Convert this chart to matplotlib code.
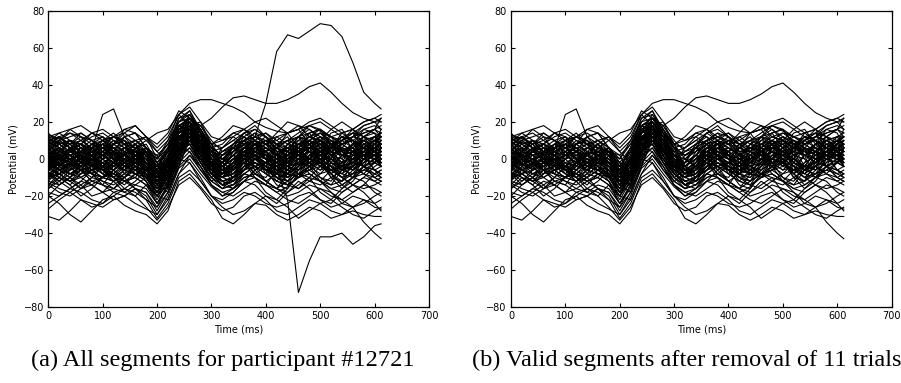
import matplotlib
matplotlib.use("Agg")
import matplotlib.pyplot as plt

# sample times (ms)
time_ms = [0, 20, 40, 60, 80, 100, 120, 140, 160, 180, 200, 220, 240, 260, 280, 300,
           320, 340, 360, 380, 400, 420, 440, 460, 480, 500, 520, 540, 560, 580, 600, 612]

# trials kept after artefact rejection (potential, mV)
valid_trials = [
    [-31,-33,-28,-22,-24,-26,-22,-20,-24,-27,-30,-20,-5,0,-8,-15,-20,-18,-12,-10,-14,-18,-15,-10,-8,-12,-16,-14,-10,-8,-10,-12],
    [-20,-24,-30,-34,-28,-22,-20,-25,-28,-30,-35,-28,-12,-8,-15,-22,-32,-35,-30,-24,-25,-30,-33,-30,-26,-28,-32,-30,-28,-30,-31,-31],
    [-5,-8,-12,-10,-6,-4,-8,-12,-10,-14,-20,-12,4,8,0,-8,-12,-10,-6,-4,-8,-12,-14,-10,-8,-12,-18,-24,-26,-34,-40,-43],
    [5,8,10,6,4,8,12,10,6,4,0,8,18,22,18,22,28,33,34,32,30,30,32,35,39,41,36,30,25,22,20,20],
    [3,6,10,8,5,24,27,12,5,2,-6,0,14,16,6,-2,-4,0,4,6,2,-2,0,4,6,4,0,-4,-2,2,6,8],
    [10,12,8,4,6,10,12,8,6,10,14,16,24,30,32,32,30,28,25,20,17,15,14,16,18,15,12,10,12,14,16,18],
    [0,3,5,2,-2,-4,-1,3,4,0,-10,-4,12,16,6,-3,-8,-5,0,4,6,3,-1,-3,0,4,7,5,2,4,8,10],
    [-8,-5,-2,-4,-8,-10,-6,-2,-4,-9,-16,-8,8,12,4,-6,-10,-8,-4,0,-2,-6,-8,-4,2,4,0,-4,-6,-2,2,4],
    [5,2,-2,-4,0,4,6,2,-2,-6,-14,-6,10,18,10,0,-4,0,6,8,4,0,2,6,10,8,4,2,6,10,12,12],
    [12,10,6,8,12,14,10,6,4,2,-4,4,18,22,14,6,2,4,8,12,14,10,6,8,12,14,12,8,10,14,16,14],
    [-12,-14,-10,-6,-8,-12,-14,-10,-6,-10,-18,-10,6,8,-2,-10,-14,-12,-8,-10,-14,-16,-12,-8,-6,-10,-14,-12,-8,-6,-8,-10],
    [2,-2,-6,-4,0,2,-2,-6,-8,-10,-18,-8,6,10,2,-6,-10,-6,-2,2,0,-4,-6,-2,2,6,8,4,0,2,6,8],
    [-4,0,4,6,2,-2,-4,0,4,2,-8,0,16,20,10,2,-2,2,6,4,0,2,8,12,10,6,2,4,8,6,2,0],
    [7,9,6,2,-1,2,6,8,4,-2,-10,-2,12,14,6,-2,-6,-4,2,6,8,6,2,-2,-4,0,4,8,10,6,4,6],
    [-16,-12,-8,-10,-14,-18,-16,-12,-10,-14,-24,-16,0,6,-2,-12,-16,-14,-8,-4,-6,-10,-14,-16,-12,-8,-6,-10,-14,-16,-14,-12],
    [-2,-6,-8,-4,2,4,0,-4,-6,-4,-12,-6,8,14,8,0,-6,-10,-6,0,4,8,6,2,-2,-6,-4,2,8,10,6,4],
    [3,5,8,12,10,6,4,8,10,6,-2,6,20,26,16,6,2,6,10,12,8,4,6,10,14,16,12,8,4,6,10,12],
    [-6,-3,0,2,-2,-6,-8,-4,0,-2,-10,-4,10,14,4,-6,-10,-8,-2,2,0,-4,-2,4,8,4,-2,-6,-4,0,-2,-4],
    [9,6,2,4,8,6,2,-2,0,4,-4,4,16,18,10,2,0,4,10,14,12,8,4,2,6,10,8,4,8,12,10,8],
    [-10,-8,-12,-16,-14,-10,-8,-12,-16,-18,-28,-18,-2,4,-4,-14,-18,-16,-10,-8,-12,-16,-20,-18,-14,-16,-20,-22,-18,-14,-16,-18],
    [0,-3,-1,3,6,4,0,-2,2,0,-8,-2,14,18,8,-2,-4,0,4,2,-2,-4,0,4,8,12,10,6,2,0,2,4],
    [-3,1,4,1,-3,-5,-2,2,4,-2,-14,-6,10,16,6,-4,-8,-4,2,6,4,0,-4,-8,-6,-2,2,6,4,0,-2,0],
    [4,1,-2,0,4,8,6,2,-1,-4,-12,-4,10,12,4,-2,-4,0,6,10,6,2,-2,0,4,8,12,14,10,6,8,12],
    [-7,-10,-12,-8,-4,-6,-10,-12,-8,-8,-16,-10,4,10,2,-8,-12,-10,-6,-2,-4,-8,-10,-6,-2,0,-4,-8,-10,-6,-2,0],
    [6,4,0,-4,-2,2,4,0,-4,-8,-18,-10,6,12,4,-4,-6,-2,2,-2,-6,-4,2,6,4,0,-4,-6,-2,4,6,4],
    [-1,2,6,8,4,0,2,6,8,4,-4,4,18,20,10,0,-4,0,4,8,10,12,8,4,0,2,6,10,14,12,8,6],
    [-14,-18,-20,-16,-12,-14,-18,-20,-16,-18,-26,-18,-4,2,-6,-14,-18,-20,-16,-12,-14,-18,-22,-24,-20,-16,-18,-22,-26,-24,-20,-18],
    [2,4,2,-2,-6,-4,0,4,2,-4,-14,-4,12,16,8,0,-2,2,0,-4,-2,2,6,4,0,-2,2,6,4,2,4,6],
    [10,12,14,10,6,8,12,14,10,6,2,8,22,24,16,8,6,10,14,16,12,8,10,14,18,20,16,12,14,18,20,22],
    [-5,-2,2,4,0,-4,-6,-2,2,0,-8,-2,12,12,2,-6,-10,-12,-8,-4,-2,-4,-8,-10,-6,0,4,2,-2,-4,0,2],
    [1,-2,-5,-8,-6,-2,1,-2,-6,-10,-20,-10,6,10,2,-8,-12,-10,-4,0,2,0,-4,-6,-2,2,0,-4,-2,2,6,4],
    [-9,-6,-3,-1,-4,-8,-10,-6,-2,-4,-12,-6,8,10,0,-8,-12,-10,-4,-2,-6,-10,-8,-4,0,-2,-6,-8,-4,0,2,0],
    [8,10,12,14,10,6,8,12,14,10,4,10,20,22,14,8,10,14,16,12,8,10,14,18,16,12,8,10,16,20,22,24],
    [-3,-6,-4,0,4,2,-2,-6,-8,-12,-22,-12,4,8,0,-8,-14,-16,-12,-6,-2,0,-4,-8,-12,-14,-10,-6,-4,-8,-12,-10],
    [3,6,4,0,-2,2,8,10,6,2,-6,2,14,16,8,2,4,8,12,8,4,6,10,12,8,4,6,10,6,2,4,8],
    [-18,-20,-16,-12,-14,-18,-22,-20,-16,-20,-30,-22,-8,-2,-10,-20,-24,-22,-18,-20,-24,-26,-24,-20,-18,-22,-26,-24,-20,-22,-26,-27],
    [5,2,0,2,6,8,4,0,-2,-6,-16,-6,10,14,4,-4,-8,-6,0,6,10,8,4,0,-2,2,8,12,10,6,2,4],
    [-2,0,-3,-6,-4,0,4,2,-2,-2,-10,-2,14,16,6,-2,-6,-2,4,8,6,2,-2,-4,0,6,10,8,4,6,10,12],
    [0,2,5,8,6,2,-2,-4,0,-2,-10,0,14,18,8,-2,-8,-6,0,4,2,-2,-6,-8,-4,2,6,4,0,-4,-6,-4],
    [-6,-8,-6,-2,0,-4,-8,-10,-6,-8,-18,-10,6,10,2,-6,-8,-4,0,-2,-6,-8,-4,0,4,2,-2,-4,-2,2,4,2],
    [11,8,4,6,10,12,8,4,2,4,-4,4,18,20,12,4,2,6,10,12,10,6,4,8,12,10,6,8,12,16,18,16],
    [-11,-8,-4,-2,-6,-10,-12,-8,-4,-8,-16,-8,6,8,-2,-10,-14,-10,-4,-2,-6,-10,-12,-8,-4,-2,-6,-10,-8,-4,-6,-8],
    [4,2,-2,-6,-4,0,4,6,2,-2,-10,-2,12,16,8,0,-2,2,8,10,6,2,0,4,8,10,6,2,0,4,8,10],
    [-24,-20,-16,-18,-22,-24,-20,-16,-18,-22,-32,-24,-10,-6,-12,-20,-26,-30,-28,-24,-20,-22,-26,-32,-28,-24,-22,-26,-30,-32,-28,-26],
    [13,11,8,10,14,16,12,8,10,12,6,12,24,28,20,12,10,12,16,20,22,18,14,16,20,22,18,14,16,20,22,20],
    [-4,-1,2,0,-4,-6,-2,2,0,-4,-12,-4,12,14,4,-4,-6,-2,2,0,-4,-6,-2,2,0,-4,-6,-2,2,4,0,-2],
    [7,4,2,4,8,10,6,2,0,-2,-8,0,14,18,10,4,6,10,8,4,2,6,10,8,4,2,4,8,12,10,6,4],
    [-13,-16,-18,-14,-10,-12,-16,-18,-14,-16,-24,-14,2,6,-4,-12,-16,-14,-10,-8,-12,-16,-18,-14,-10,-12,-16,-18,-14,-10,-12,-14],
    [4,-2,-8,-6,2,8,4,-4,-6,2,-4,-10,6,20,12,-4,-2,6,10,2,-6,-2,8,12,4,-4,0,10,14,6,-2,-4],
    [-10,-4,4,8,2,-6,-10,-4,4,6,-6,-14,0,12,16,6,-6,-12,-4,6,10,2,-8,-10,0,10,6,-4,-10,-4,6,8],
    [8,12,6,-2,-4,4,10,8,0,-8,-12,2,18,14,2,-8,-2,8,10,2,-6,-4,4,12,14,6,-2,-6,2,10,12,6],
    [-2,-8,-12,-6,2,0,-6,-10,-2,6,-2,-10,2,16,10,-2,-8,-4,4,8,0,-8,-12,-4,6,8,0,-6,-4,4,8,2],
    [2,8,10,4,-4,-8,-2,6,10,4,-8,-6,10,22,16,4,-6,-8,0,8,12,4,-4,-2,6,12,8,0,-6,-2,6,10],
    [-6,0,6,2,-6,-10,-4,4,2,-8,-16,-6,12,16,4,-4,0,6,4,-4,-8,0,8,6,-2,-6,0,8,10,2,-6,-8],
    [12,6,-2,0,8,12,6,-2,-4,4,2,-8,4,18,20,8,0,-4,2,10,14,8,0,2,10,14,10,2,-2,6,12,14],
    [-14,-8,-2,-6,-12,-10,-2,2,-4,-12,-20,-8,6,4,-6,-12,-8,0,2,-6,-12,-8,0,4,-2,-10,-12,-4,4,2,-6,-10],
    [0,6,2,-6,-8,0,8,4,-4,-6,-10,-2,14,24,14,0,-8,-4,6,10,2,-6,-4,6,10,4,-4,-8,0,8,6,0],
    [6,0,-6,-2,6,8,0,-6,-2,4,-6,-14,-2,14,18,8,-4,-8,0,6,4,-4,-8,0,8,12,4,-6,-8,0,8,12],
    [-4,4,10,6,-2,-4,4,12,8,-2,-8,4,16,12,-2,-10,-6,4,8,2,-6,-8,2,10,8,-2,-8,-2,8,12,4,-2],
    [-8,-14,-10,-2,0,-6,-12,-8,2,4,-8,-12,4,18,8,-6,-10,-2,6,2,-8,-12,-6,4,8,0,-10,-12,-2,6,4,-4],
    [10,4,8,14,10,2,4,12,14,6,0,10,24,18,4,-2,6,12,8,0,4,12,14,6,0,6,14,16,8,2,8,16],
    [-2,2,-4,-10,-6,2,4,-2,-8,-12,-24,-14,4,10,0,-10,-16,-10,0,2,-4,-12,-14,-6,2,0,-8,-14,-10,0,4,-2],
    [3,-3,0,6,4,-4,-6,2,8,2,-10,-4,14,20,10,-2,-4,2,-2,-8,-4,6,10,2,-6,-4,6,12,6,-4,-2,6],
    [-12,-6,-10,-16,-10,-4,-10,-16,-12,-6,-14,-18,-4,10,6,-6,-14,-10,-2,-4,-12,-16,-8,0,-4,-12,-14,-6,0,-4,-10,-12],
    [7,12,8,0,2,10,14,8,0,-2,-6,6,22,26,14,2,-4,2,10,14,8,0,-2,6,14,16,8,2,4,12,16,12],
    [-5,2,0,-6,-10,-4,2,0,-6,-10,-18,-6,8,8,-2,-6,2,6,0,-8,-10,-2,6,4,-4,-8,-2,6,4,-4,-8,-6],
    [1,-6,-10,-4,4,6,0,-8,-10,-2,-6,-16,-4,12,16,6,-4,-10,-6,2,6,2,-6,-10,-4,4,10,6,-4,-8,-2,6],
    [9,14,10,2,0,6,12,10,2,-2,-4,6,18,14,2,-6,-2,8,14,10,2,-2,4,12,16,10,2,0,8,16,14,6],
    [-16,-10,-14,-20,-16,-10,-12,-18,-20,-14,-20,-22,-8,2,-4,-14,-20,-16,-8,-10,-18,-22,-16,-8,-10,-18,-22,-16,-10,-12,-18,-20],
    [2,-4,-2,4,8,4,-4,-6,2,6,-2,-8,8,20,14,0,-8,-4,4,6,0,-8,-6,4,10,6,-2,-6,0,8,10,4],
    [-9,-2,4,0,-8,-10,-2,6,4,-4,-14,-10,6,14,6,-4,-10,-6,2,6,0,-8,-10,-2,6,4,-4,-10,-4,4,2,-4],
    [5,10,16,12,4,2,8,16,14,6,-4,0,16,20,12,6,8,14,12,4,0,6,14,16,8,2,6,14,16,8,4,10],
    [-3,-10,-14,-8,0,-2,-10,-14,-8,-6,-14,-6,10,12,2,-8,-14,-12,-4,0,-6,-14,-16,-8,0,-2,-10,-16,-12,-4,0,-4],
    [14,8,4,8,14,12,4,2,8,12,4,-2,10,22,18,10,4,6,14,18,12,4,4,12,18,16,8,6,12,18,20,16],
    [-7,-12,-6,2,0,-8,-12,-6,2,-2,-12,-14,0,14,10,-4,-12,-14,-6,2,-2,-10,-12,-4,4,0,-8,-12,-6,2,2,-4],
    [0,4,10,8,0,-6,-4,4,8,2,-12,-2,16,18,6,-6,-10,-2,8,10,2,-4,0,8,6,-2,-8,-4,4,8,4,-2],
    [-20,-14,-10,-14,-20,-18,-12,-10,-16,-22,-26,-14,0,-2,-12,-20,-22,-18,-12,-14,-20,-24,-18,-12,-16,-22,-24,-18,-14,-18,-24,-22],
    [4,10,6,-2,-6,0,8,10,2,-6,-14,0,18,16,4,-2,4,8,2,-6,-2,8,12,4,-4,-2,6,12,10,2,0,6],
    [-1,-6,-2,4,2,-4,-8,-2,6,4,-8,-10,4,16,12,0,-6,-2,6,8,2,-6,-8,0,8,10,2,-6,-4,4,10,8],
    [8,2,-4,-2,6,10,4,-4,-6,2,-2,-12,2,16,14,2,-6,-2,6,4,-4,-8,-2,8,10,2,-6,-4,4,10,6,0],
    [-11,-4,0,-6,-12,-14,-6,0,-2,-10,-18,-8,8,10,0,-8,-4,2,-2,-10,-14,-6,2,0,-8,-12,-6,2,4,-4,-10,-8],
    [12,14,16,18,14,10,12,16,18,12,8,14,26,22,12,8,12,18,16,10,8,14,20,18,12,10,16,20,16,12,16,22],
    [-27,-22,-18,-22,-26,-24,-18,-16,-20,-26,-33,-26,-14,-10,-16,-24,-28,-26,-20,-18,-22,-28,-30,-26,-22,-24,-28,-30,-26,-22,-24,-28],
]

# the 11 trials that were removed (only in panel a)
rejected_trials = [
    [3,0,-3,0,4,6,3,-1,-2,-5,-12,-3,12,16,8,0,-2,2,6,12,30,58,67,65,69,73,72,66,52,36,30,27],
    [-2,2,5,2,-3,-6,-2,3,5,0,-10,-2,12,14,4,-6,-8,-2,4,2,-2,-6,-22,-72,-55,-42,-42,-40,-46,-42,-36,-35],
    [6,10,14,12,8,4,8,14,18,12,0,6,20,24,14,4,-2,4,12,16,12,6,0,4,10,14,8,2,6,12,14,12],
    [-8,-12,-16,-12,-6,-2,-6,-12,-14,-10,-20,-14,2,10,4,-6,-12,-16,-12,-6,-2,-6,-12,-16,-10,-4,-8,-14,-18,-14,-8,-6],
    [2,6,2,-4,-8,-4,2,6,2,-4,-14,-2,16,20,10,-2,-10,-6,2,8,4,-4,-10,-6,2,8,4,-2,-6,0,6,8],
    [-4,0,6,10,6,0,-4,0,6,8,-2,4,18,20,8,-4,-8,-2,6,10,4,-2,-4,2,8,10,4,-2,0,6,10,8],
    [10,6,0,-4,0,6,10,6,0,-4,-12,-4,10,14,6,-2,2,8,12,8,2,-2,2,8,12,8,2,-2,2,8,12,10],
    [-14,-10,-4,-2,-8,-14,-16,-10,-4,-6,-16,-10,4,10,2,-8,-14,-12,-6,0,-4,-10,-14,-10,-4,0,-4,-10,-14,-10,-4,-2],
    [0,-4,-8,-4,2,6,2,-4,-8,-4,-10,-4,12,18,12,4,-2,-6,-2,4,8,4,-2,-6,-2,4,8,4,-2,-4,0,2],
    [5,8,10,6,0,-2,2,6,4,-2,-10,0,16,22,14,4,0,4,10,6,0,-4,0,6,12,16,12,4,0,4,10,14],
    [-6,-2,2,-2,-8,-10,-6,0,2,-2,-12,-6,8,12,2,-8,-10,-4,4,8,2,-6,-10,-6,2,6,2,-4,-6,-2,2,4],
]

x_ticks = [0, 100, 200, 300, 400, 500, 600, 700]
y_ticks = [-80, -60, -40, -20, 0, 20, 40, 60, 80]
captions = ["(a) All segments for participant #12721",
            "(b) Valid segments after removal of 11 trials"]

fig = plt.figure(figsize=(9.01, 3.83), dpi=100)
ax_a = fig.add_axes([0.0536, 0.1977, 0.4225, 0.7744])
ax_b = fig.add_axes([0.5671, 0.1977, 0.4225, 0.7744])

for tr in valid_trials + rejected_trials:
    ax_a.plot(time_ms, tr, color="black", lw=0.8)
for tr in valid_trials:
    ax_b.plot(time_ms, tr, color="black", lw=0.8)

for ax in (ax_a, ax_b):
    ax.set_xlim(0, 700)
    ax.set_ylim(-80, 80)
    ax.set_xticks(x_ticks)
    ax.set_yticks(y_ticks)
    ax.tick_params(direction="in", top=True, right=True, length=3, width=0.8,
                   labelsize=7, pad=3, colors="black")
    for s in ax.spines.values():
        s.set_linewidth(0.9)
        s.set_color("black")
    ax.set_xlabel("Time (ms)", fontsize=7)
    ax.set_ylabel("Potential (mV)", fontsize=7)
    ax.xaxis.set_label_coords(0.5, -0.058)
    ax.yaxis.set_label_coords(-0.077, 0.5)

fig.text(0.247, 0.044, captions[0], fontfamily="Liberation Serif", fontsize=17.5,
         ha="center", va="baseline")
fig.text(0.762, 0.044, captions[1], fontfamily="Liberation Serif", fontsize=17.5,
         ha="center", va="baseline")

fig.savefig("out.png", dpi=100)
